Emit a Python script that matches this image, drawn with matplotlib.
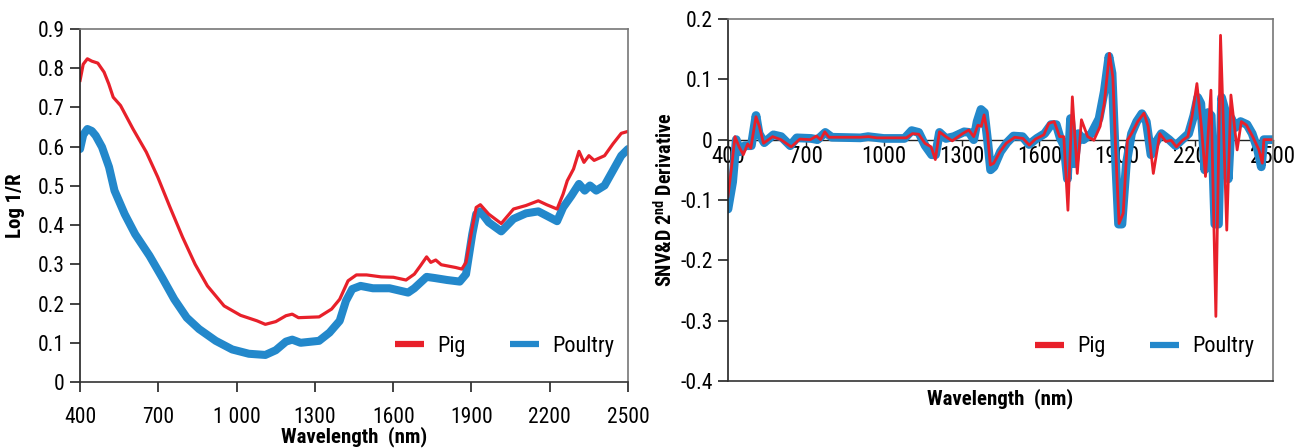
import matplotlib
matplotlib.use('Agg')
import matplotlib.pyplot as plt
import numpy as np

plt.rcParams['font.family'] = ['Liberation Sans Narrow', 'DejaVu Sans Condensed', 'Roboto Condensed',
                               'Liberation Sans', 'DejaVu Sans']
plt.rcParams['mathtext.fontset'] = 'custom'
plt.rcParams['mathtext.bf'] = 'Roboto Condensed:bold'

RED = '#e8202a'
BLUE = '#2388cb'

# left panel: raw spectra (log 1/R)
pig_wl = [400, 412, 428, 445, 468, 492, 510, 527, 555, 603, 654, 698, 745, 793, 841, 888, 952, 1015,
          1078, 1110, 1150, 1189, 1213, 1237, 1316, 1364, 1395, 1427, 1459, 1498, 1554, 1601, 1649,
          1681, 1704, 1728, 1744, 1763, 1784, 1839, 1863, 1879, 1903, 1918, 1934, 1966, 2014, 2061,
          2109, 2156, 2188, 2228, 2251, 2267, 2291, 2312, 2331, 2350, 2370, 2410, 2442, 2474, 2500]
pig_logr = [0.769, 0.81, 0.824, 0.818, 0.813, 0.79, 0.76, 0.726, 0.705, 0.645, 0.586, 0.522, 0.445,
            0.369, 0.30, 0.245, 0.194, 0.170, 0.156, 0.147, 0.154, 0.169, 0.173, 0.164, 0.166, 0.186,
            0.211, 0.258, 0.273, 0.273, 0.268, 0.267, 0.26, 0.275, 0.296, 0.319, 0.305, 0.311, 0.299,
            0.292, 0.288, 0.305, 0.394, 0.445, 0.452, 0.428, 0.404, 0.441, 0.45, 0.462, 0.452, 0.441,
            0.479, 0.513, 0.543, 0.588, 0.56, 0.577, 0.565, 0.577, 0.607, 0.634, 0.639]

poultry_wl = [400, 412, 428, 445, 460, 484, 511, 532, 571, 611, 666, 714, 761, 809, 856, 920, 983,
              1047, 1110, 1150, 1189, 1213, 1245, 1316, 1356, 1395, 1419, 1443, 1475, 1522, 1586, 1657,
              1681, 1728, 1760, 1807, 1855, 1879, 1903, 1918, 1934, 1966, 2014, 2061, 2109, 2156, 2188,
              2228, 2251, 2283, 2312, 2334, 2354, 2378, 2410, 2442, 2474, 2500]
poultry_logr = [0.594, 0.63, 0.645, 0.64, 0.628, 0.599, 0.548, 0.488, 0.428, 0.377, 0.322, 0.267,
                0.211, 0.164, 0.135, 0.105, 0.083, 0.072, 0.069, 0.081, 0.103, 0.108, 0.10, 0.105,
                0.126, 0.156, 0.207, 0.237, 0.245, 0.239, 0.239, 0.228, 0.239, 0.268, 0.265, 0.26,
                0.256, 0.275, 0.377, 0.428, 0.435, 0.407, 0.384, 0.416, 0.43, 0.435, 0.424, 0.41,
                0.445, 0.475, 0.505, 0.488, 0.501, 0.488, 0.501, 0.539, 0.577, 0.594]

# right panel: SNV & detrend, 2nd derivative
pig_d2_wl = [400, 414, 427, 443, 459, 476, 488, 508, 521, 537, 572, 604, 644, 677, 717, 741, 757, 773,
             789, 910, 942, 974, 1087, 1111, 1135, 1159, 1183, 1199, 1215, 1239, 1264, 1304, 1328, 1347,
             1363, 1376, 1387, 1400, 1411, 1424, 1448, 1472, 1505, 1537, 1561, 1585, 1617, 1636, 1657,
             1678, 1694, 1710, 1727, 1746, 1762, 1786, 1810, 1834, 1850, 1870, 1883, 1894, 1907, 1923,
             1939, 1955, 1979, 2003, 2019, 2039, 2064, 2087, 2108, 2128, 2152, 2172, 2188, 2207, 2224,
             2240, 2261, 2280, 2298, 2322, 2338, 2362, 2378, 2398, 2422, 2446, 2459, 2465, 2500]
pig_d2 = [-0.094, -0.045, 0.005, -0.012, -0.025, -0.007, -0.014, 0.038, 0.022, -0.006, 0.005, 0.0,
          -0.012, 0.001, 0.0, 0.006, 0.0, 0.013, 0.004, 0.004, 0.005, 0.003, 0.003, 0.01, 0.009, -0.006,
          -0.012, -0.033, 0.013, 0.005, -0.002, 0.01, 0.016, 0.005, 0.024, 0.022, 0.041, 0.01, -0.042,
          -0.039, -0.02, -0.006, 0.004, 0.002, -0.009, 0.001, 0.008, 0.027, 0.03, 0.005, 0.005, -0.117,
          0.071, -0.056, 0.033, 0.005, -0.001, 0.022, 0.06, 0.143, 0.104, -0.017, -0.139, -0.122,
          -0.001, 0.01, 0.03, 0.044, 0.022, -0.056, 0.01, -0.003, -0.001, -0.012, -0.001, 0.005, 0.038,
          0.093, 0.022, -0.061, 0.082, -0.293, 0.173, -0.15, 0.074, -0.017, 0.03, 0.024, 0.005, -0.017,
          -0.039, 0.0, 0.0]

poultry_d2_wl = [400, 418, 432, 445, 465, 490, 508, 520, 540, 575, 605, 640, 665, 720, 745, 775, 800,
                 910, 940, 1000, 1080, 1108, 1135, 1160, 1185, 1200, 1215, 1240, 1270, 1310, 1330, 1347,
                 1360, 1375, 1388, 1400, 1412, 1425, 1450, 1475, 1500, 1535, 1560, 1590, 1620, 1645,
                 1665, 1680, 1695, 1708, 1720, 1735, 1750, 1770, 1800, 1830, 1850, 1868, 1880, 1892,
                 1905, 1918, 1935, 1955, 1975, 1995, 2012, 2030, 2048, 2070, 2100, 2125, 2150, 2175,
                 2195, 2210, 2222, 2237, 2250, 2262, 2276, 2290, 2302, 2315, 2328, 2340, 2355, 2375,
                 2400, 2420, 2440, 2455, 2465, 2500]
poultry_d2 = [-0.115, -0.07, 0.0, -0.02, -0.01, -0.01, 0.04, 0.01, -0.005, 0.008, 0.005, -0.01, 0.003,
              0.002, 0.0, 0.012, 0.004, 0.003, 0.005, 0.002, 0.002, 0.015, 0.012, -0.01, -0.025, -0.025,
              0.012, 0.002, 0.005, 0.013, 0.012, 0.0, 0.03, 0.05, 0.045, 0.0, -0.05, -0.045, -0.02,
              -0.005, 0.006, 0.005, -0.008, 0.002, 0.01, 0.025, 0.025, 0.003, -0.01, -0.065, 0.035,
              -0.04, 0.01, 0.0, 0.01, 0.035, 0.08, 0.138, 0.11, -0.02, -0.14, -0.14, -0.04, 0.01, 0.03,
              0.043, 0.03, -0.025, -0.005, 0.01, 0.0, -0.01, 0.0, 0.01, 0.04, 0.07, 0.06, -0.05, 0.045,
              0.04, -0.14, -0.14, 0.07, 0.05, -0.065, 0.035, 0.02, 0.03, 0.025, 0.01, -0.015, -0.045,
              0.0, 0.0]

x_ticks = [400, 700, 1000, 1300, 1600, 1900, 2200, 2500]
x_labels_left = ['400', '700', '1 000', '1300', '1600', '1900', '2200', '2500']
x_labels_right = ['400', '700', '1000', '1300', '1600', '1900', '2200', '2500']
y_ticks_left = [0, 0.1, 0.2, 0.3, 0.4, 0.5, 0.6, 0.7, 0.8, 0.9]
y_labels_left = ['0', '0.1', '0.2', '0.3', '0.4', '0.5', '0.6', '0.7', '0.8', '0.9']
y_ticks_right = [-0.4, -0.3, -0.2, -0.1, 0, 0.1, 0.2]
y_labels_right = ['-0.4', '-0.3', '-0.2', '-0.1', '0', '0.1', '0.2']

fig = plt.figure(figsize=(13.06, 4.48), dpi=100)
ax1 = fig.add_axes([0.0613, 0.1473, 0.4196, 0.788])
ax2 = fig.add_axes([0.5574, 0.1496, 0.4173, 0.808])


def style_spines(ax):
    ax.spines['left'].set_color('#222222')
    ax.spines['bottom'].set_color('#333333')
    ax.spines['top'].set_color('#777777')
    ax.spines['right'].set_color('#777777')
    for s in ax.spines.values():
        s.set_linewidth(1.2)


def add_legend(ax, anchor):
    h, l = ax.get_legend_handles_labels()
    leg = ax.legend(h[::-1], l[::-1], ncol=2, frameon=False, loc='center right',
                    bbox_to_anchor=anchor, fontsize=16, handlelength=1.3,
                    handletextpad=0.6, columnspacing=2.0, borderaxespad=0, borderpad=0)
    for line in leg.get_lines():
        line.set_linewidth(4.5)
        line.set_solid_capstyle('butt')


# ---- left: log 1/R
ax1.plot(poultry_wl, poultry_logr, color=BLUE, lw=5.8, solid_capstyle='round',
         solid_joinstyle='round', label='Poultry')
ax1.plot(pig_wl, pig_logr, color=RED, lw=2.3, solid_joinstyle='round', label='Pig')
ax1.set_xlim(400, 2500)
ax1.set_ylim(0, 0.9)
ax1.set_xticks(x_ticks)
ax1.set_xticklabels(x_labels_left)
ax1.set_yticks(y_ticks_left)
ax1.set_yticklabels(y_labels_left)
ax1.tick_params(axis='both', labelsize=15.5, length=7, width=1.2, color='#222222', pad=4)
ax1.tick_params(axis='x', pad=11)
ax1.set_xlabel('Wavelength  (nm)', fontsize=15, fontweight='bold', labelpad=-1)
ax1.set_ylabel('Log 1/R', fontsize=15, fontweight='bold', labelpad=9)
style_spines(ax1)
add_legend(ax1, (0.975, 0.1))

# ---- right: 2nd derivative
ax2.plot(poultry_d2_wl, poultry_d2, color=BLUE, lw=6.3, solid_capstyle='round',
         solid_joinstyle='round', label='Poultry')
ax2.plot(pig_d2_wl, pig_d2, color=RED, lw=2.0, solid_joinstyle='round', label='Pig')
ax2.set_xlim(400, 2500)
ax2.set_ylim(-0.4, 0.2)
ax2.set_xticks([])
ax2.set_yticks(y_ticks_right)
ax2.set_yticklabels(y_labels_right)
ax2.tick_params(axis='y', labelsize=15.5, length=7, width=1.2, color='#222222', pad=4)
ax2.set_xlabel('Wavelength  (nm)', fontsize=15, fontweight='bold', labelpad=5)
ax2.set_ylabel(r'SNV&D 2$^{\mathbf{nd}}$ Derivative', fontsize=14.5, fontweight='bold', labelpad=3)
style_spines(ax2)

# zero line carrying the wavelength ticks
sec = ax2.secondary_xaxis(2 / 3)
sec.set_alignment('bottom')
sec.set_xticks(x_ticks)
sec.set_xticklabels(x_labels_right)
sec.tick_params(axis='x', labelsize=16.5, length=4, width=1, color='#222222', pad=0)
sec.spines['bottom'].set_color('#222222')
sec.spines['bottom'].set_linewidth(1.0)

add_legend(ax2, (0.965, 0.094))

fig.savefig('out.png', dpi=100)
